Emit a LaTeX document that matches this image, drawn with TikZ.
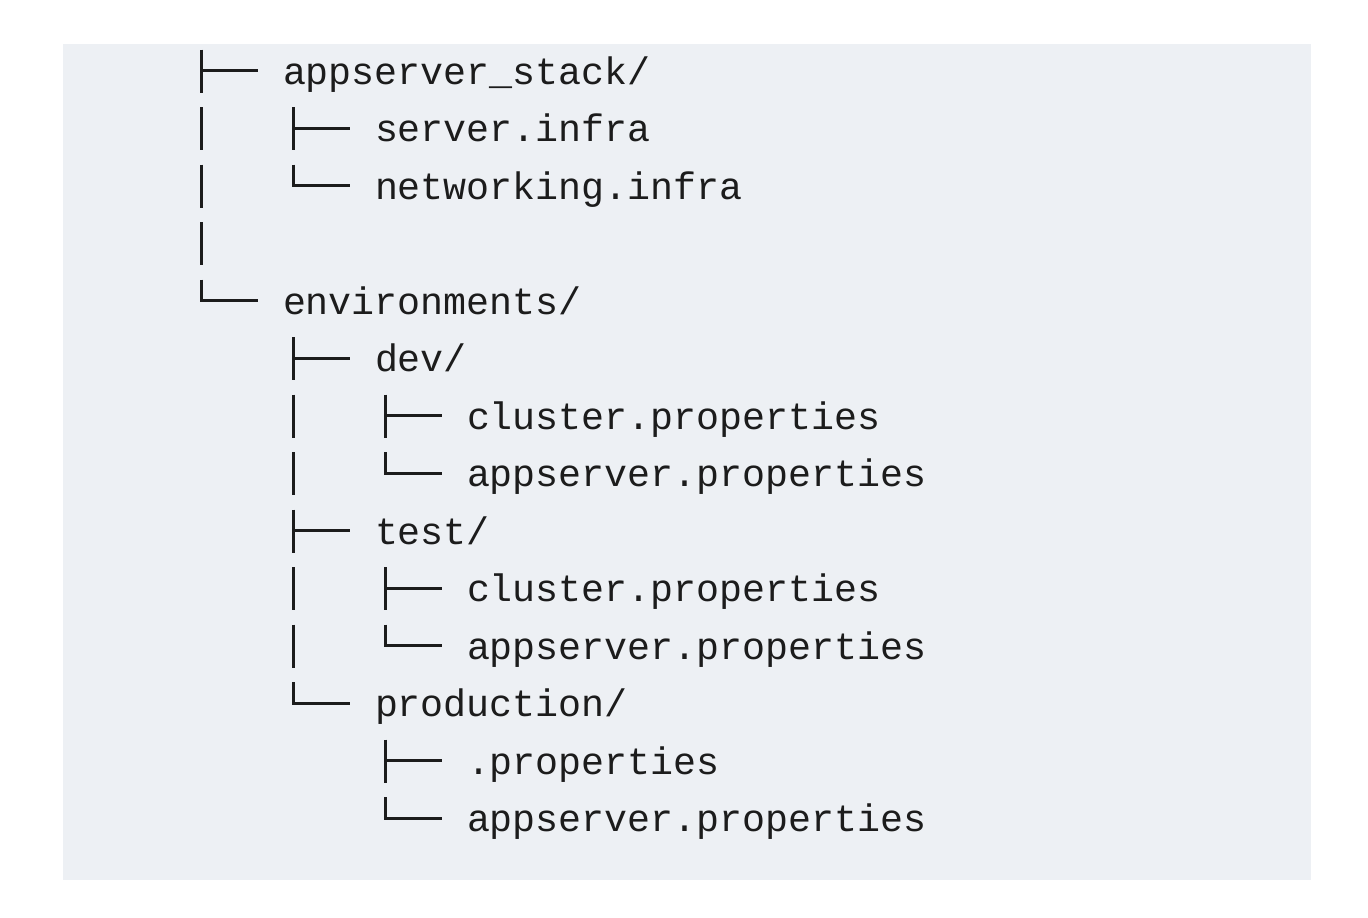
\documentclass[tikz,border=0pt]{standalone}
\usepackage{fontspec}
\setmonofont{Liberation Mono}
\definecolor{codebg}{RGB}{237,240,244}
\definecolor{codefg}{RGB}{28,28,28}
\newcommand\treeTee[1]{\draw[tree] ([shift={(-81.5,-34.5)}]#1.base west) -- ([shift={(-81.5,8.5)}]#1.base west)
   ([shift={(-81.5,-13.5)}]#1.base west) -- ([shift={(-25,-13.5)}]#1.base west);}
\newcommand\treeElbow[1]{\draw[tree] ([shift={(-81.5,-34.5)}]#1.base west) |- ([shift={(-25,-13.5)}]#1.base west);}
\newcommand\treePipe[2]{\draw[tree] ([shift={(#2,-34.5)}]#1.base west) -- ([shift={(#2,8.5)}]#1.base west);}
\begin{document}
\begin{tikzpicture}[x=0.5pt,y=-0.5pt,
  txt/.style={anchor=base west, inner sep=0pt, outer sep=0pt,
    font=\ttfamily\fontsize{19.15}{28.75}\selectfont, text=codefg},
  tree/.style={draw=codefg, line width=1.5pt, line cap=butt, line join=miter}]
\useasboundingbox (0,0) rectangle (1368,917);
\fill[white] (0,0) rectangle (1368,917);
\fill[codebg] (63,44) rectangle (1311,880);
% text columns: 283, 375, 467 ; baselines 84 + 57.5 i
\node[txt] (n0)  at (283,84)    {appserver\_stack/};
\node[txt] (n1)  at (375,141.5) {server.infra};
\node[txt] (n2)  at (375,199)   {networking.infra};
\coordinate (r3) at (283,256.5);
\node[txt] (n4)  at (283,314)   {environments/};
\node[txt] (n5)  at (375,371.5) {dev/};
\node[txt] (n6)  at (467,429)   {cluster.properties};
\node[txt] (n7)  at (467,486.5) {appserver.properties};
\node[txt] (n8)  at (375,544)   {test/};
\node[txt] (n9)  at (467,601.5) {cluster.properties};
\node[txt] (n10) at (467,659)   {appserver.properties};
\node[txt] (n11) at (375,716.5) {production/};
\node[txt] (n12) at (467,774)   {.properties};
\node[txt] (n13) at (467,831.5) {appserver.properties};
% tree connectors
\treeTee{n0}
\treePipe{n1}{-173.5}
\treeTee{n1}
\treePipe{n2}{-173.5}
\treeElbow{n2}
\draw[tree] ([shift={(-81.5,-34.5)}]r3) -- ([shift={(-81.5,8.5)}]r3);
\treeElbow{n4}
\treeTee{n5}
\treePipe{n6}{-173.5}
\treeTee{n6}
\treePipe{n7}{-173.5}
\treeElbow{n7}
\treeTee{n8}
\treePipe{n9}{-173.5}
\treeTee{n9}
\treePipe{n10}{-173.5}
\treeElbow{n10}
\treeElbow{n11}
\treeTee{n12}
\treeElbow{n13}
\end{tikzpicture}
\end{document}
